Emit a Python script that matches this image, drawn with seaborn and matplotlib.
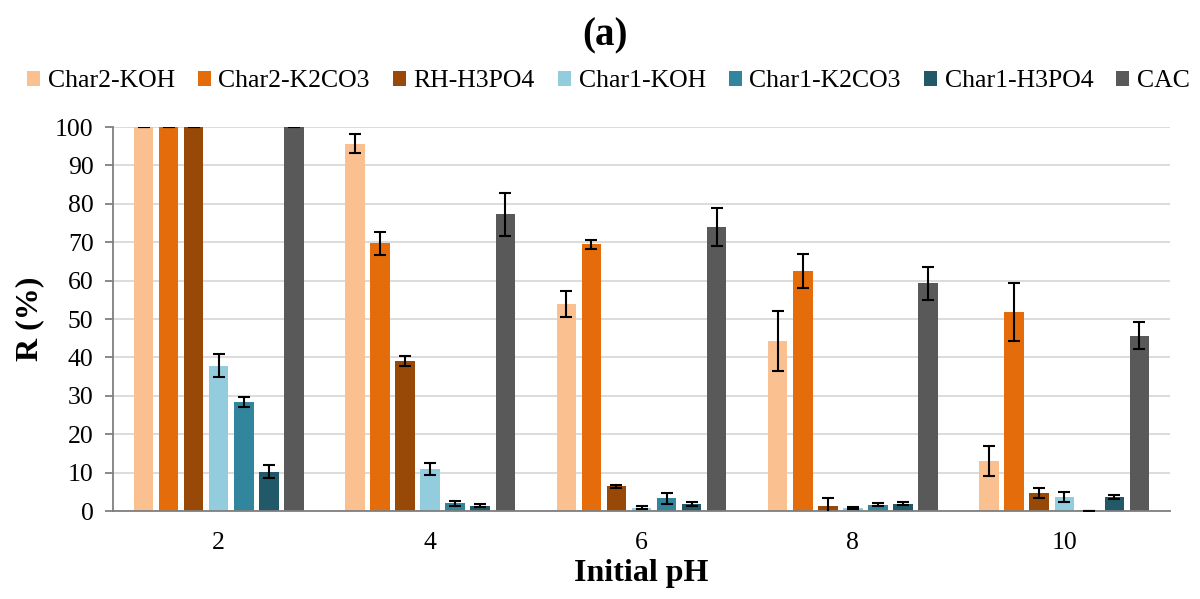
import pandas as pd
import numpy as np
import matplotlib
matplotlib.use("Agg")
import matplotlib.pyplot as plt
import seaborn as sns

# values
ph_levels = ["2", "4", "6", "8", "10"]
samples = ["Char2-KOH", "Char2-K2CO3", "RH-H3PO4", "Char1-KOH",
           "Char1-K2CO3", "Char1-H3PO4", "CAC"]
colors = ["#FAC090", "#E46C0A", "#984807", "#93CDDD",
          "#31859C", "#215968", "#595959"]

r_char2_koh = [100, 95.7, 53.9, 44.3, 13.0]
r_char2_k2co3 = [100, 69.7, 69.5, 62.4, 51.8]
r_rh_h3po4 = [100, 39.1, 6.4, 1.2, 4.6]
r_char1_koh = [37.8, 10.9, 0.9, 0.7, 3.7]
r_char1_k2co3 = [28.4, 2.0, 3.3, 1.6, 0.1]
r_char1_h3po4 = [10.2, 1.4, 1.9, 1.9, 3.6]
r_cac = [100, 77.3, 74.0, 59.3, 45.7]

e_char2_koh = [0, 2.6, 3.3, 7.9, 3.9]
e_char2_k2co3 = [0, 3.0, 1.2, 4.4, 7.6]
e_rh_h3po4 = [0, 1.3, 0.5, 2.2, 1.3]
e_char1_koh = [3.0, 1.6, 0.3, 0.3, 1.3]
e_char1_k2co3 = [1.2, 0.6, 1.4, 0.4, 0.0]
e_char1_h3po4 = [1.7, 0.3, 0.5, 0.4, 0.5]
e_cac = [0, 5.6, 4.9, 4.3, 3.6]

values = [r_char2_koh, r_char2_k2co3, r_rh_h3po4, r_char1_koh,
          r_char1_k2co3, r_char1_h3po4, r_cac]
errors = [e_char2_koh, e_char2_k2co3, e_rh_h3po4, e_char1_koh,
          e_char1_k2co3, e_char1_h3po4, e_cac]

rows = []
for s, vals, errs in zip(samples, values, errors):
    for p, v, e in zip(ph_levels, vals, errs):
        rows.append({"pH": p, "Sample": s, "R": v, "err": e})
df = pd.DataFrame(rows)

sns.set_style("white")
plt.rcParams["font.family"] = ["Liberation Serif", "DejaVu Serif"]
plt.rcParams["text.color"] = "black"
plt.rcParams["axes.labelcolor"] = "black"

fig = plt.figure(figsize=(12, 5.99), dpi=100)
ax = fig.add_axes([113 / 1200, 1 - 511 / 599, 1057 / 1200, 384 / 599])

sns.barplot(data=df, x="pH", y="R", hue="Sample", order=ph_levels,
            hue_order=samples, palette=colors, saturation=1, width=0.83,
            gap=0.22, errorbar=None, linewidth=0, ax=ax, zorder=2)

# error bars on top of each bar container (one container per sample)
for cont, s in zip(ax.containers, samples):
    sub = df[df["Sample"] == s]
    xs = [b.get_x() + b.get_width() / 2 for b in cont]
    hs = [b.get_height() for b in cont]
    ax.errorbar(xs, hs, yerr=sub["err"].values, fmt="none", ecolor="black",
                elinewidth=1.5, capsize=4.5, capthick=1.5, zorder=3)

handles, labels = ax.get_legend_handles_labels()
ax.get_legend().remove()
fig.legend(handles, labels, loc="center", bbox_to_anchor=(0.507, 0.864),
           ncol=7, frameon=False, fontsize=18.5, handlelength=0.5,
           handleheight=0.5, handletextpad=0.3, columnspacing=0.9,
           borderpad=0.1)

ax.set_ylim(0, 100)
ax.set_xlim(-0.5, 4.5)
ax.set_yticks(np.arange(0, 101, 10))
ax.yaxis.grid(True, color="#d9d9d9", linewidth=1.3, zorder=0)
ax.set_axisbelow(True)
for sp in ["top", "right"]:
    ax.spines[sp].set_visible(False)
for sp in ["left", "bottom"]:
    ax.spines[sp].set_color("#7f7f7f")
    ax.spines[sp].set_linewidth(1.3)

ax.set_xticks(np.arange(-0.5, 5, 1), minor=True)
ax.tick_params(axis="x", which="major", length=0, pad=15, labelsize=18.5,
               labelcolor="black")
ax.tick_params(axis="x", which="minor", length=6, width=1.3,
               color="#7f7f7f", direction="out")
ax.tick_params(axis="y", length=6, width=1.3, color="#7f7f7f",
               direction="out", pad=8, labelsize=18.5, left=True,
               labelcolor="black")

ax.set_xlabel("Initial pH", fontsize=23, fontweight="bold", labelpad=4)
ax.set_ylabel("R (%)", fontsize=23, fontweight="bold", labelpad=8)
fig.text(0.504, 0.94, "(a)", ha="center", va="center", fontsize=28,
         fontweight="bold")

fig.savefig("out.png", dpi=100)
